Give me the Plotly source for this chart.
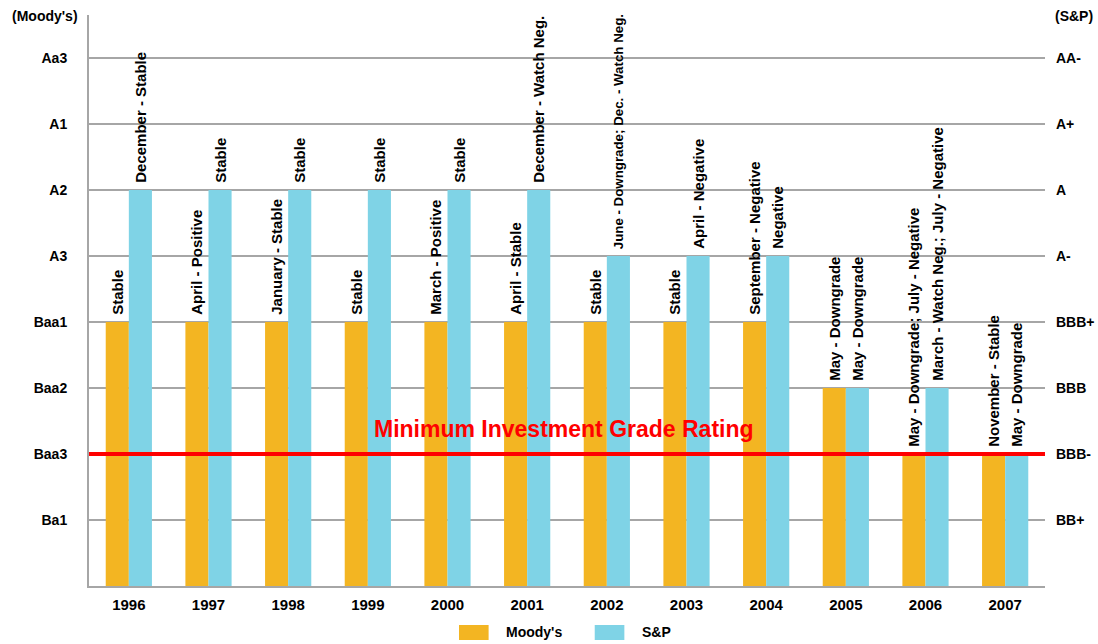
import plotly.graph_objects as go

years = ["1996", "1997", "1998", "1999", "2000", "2001",
         "2002", "2003", "2004", "2005", "2006", "2007"]

# rating scale positions (1 = Ba1/BB+ ... 8 = Aa3/AA-)
moodys_ticks = ["Ba1", "Baa3", "Baa2", "Baa1", "A3", "A2", "A1", "Aa3"]
sp_ticks = ["BB+", "BBB-", "BBB", "BBB+", "A-", "A", "A+", "AA-"]
tick_positions = [1, 2, 3, 4, 5, 6, 7, 8]

moodys_values = [4, 4, 4, 4, 4, 4, 4, 4, 4, 3, 2, 2]
sp_values = [6, 6, 6, 6, 6, 6, 5, 5, 5, 3, 3, 2]

moodys_labels = ["Stable", "April - Positive", "January - Stable", "Stable",
                 "March - Positive", "April - Stable", "Stable", "Stable",
                 "September - Negative", "May - Downgrade",
                 "May - Downgrade; July - Negative", "November - Stable"]
sp_labels = ["December - Stable", "Stable", "Stable", "Stable", "Stable",
             "December - Watch Neg.", "June - Downgrade; Dec. - Watch Neg.",
             "April - Negative", "Negative", "May - Downgrade",
             "March - Watch Neg.; July - Negative", "May - Downgrade"]

min_investment_grade = 2
min_grade_label = "Minimum Investment Grade Rating"

series_names = ["Moody's", "S&P"]
colors = ["#F3B522", "#7FD3E6"]

FONT = "Liberation Sans, Arial, sans-serif"

# the longest label (2002 S&P) was shrunk in the original to fit
label_font_sizes = [
    [15] * 12,
    [15, 15, 15, 15, 15, 15, 13.3, 15, 15, 15, 15, 15],
]

fig = go.Figure()
for name, vals, labs, col, sizes in zip(series_names, [moodys_values, sp_values],
                                        [moodys_labels, sp_labels], colors,
                                        label_font_sizes):
    fig.add_trace(go.Bar(
        x=years, y=vals, name=name, marker=dict(color=col, line=dict(width=0)),
        text=["\u00a0" + t for t in labs], textposition="outside",
        textangle=-90, constraintext="none", cliponaxis=False,
        textfont=dict(family=FONT, size=sizes, color="black", weight="bold"),
        showlegend=False, hoverinfo="x+y+name",
    ))

# invisible trace on the right axis to show the S&P scale
fig.add_trace(go.Scatter(x=years, y=[None] * len(years), yaxis="y2",
                         mode="lines", showlegend=False, hoverinfo="skip"))

fig.add_shape(type="line", xref="paper", x0=0, x1=1, yref="y",
              y0=min_investment_grade, y1=min_investment_grade,
              line=dict(color="#FF0000", width=4))
fig.add_annotation(text=min_grade_label, xref="paper", x=0.497, yref="y",
                   y=min_investment_grade, yshift=25, showarrow=False,
                   font=dict(family=FONT, size=23, color="#FF0000", weight="bold"))

# axis titles
fig.add_annotation(text="(Moody's)", xref="paper", x=-0.0094, xanchor="right",
                   yref="paper", y=0.998, yanchor="middle", showarrow=False,
                   font=dict(family=FONT, size=14, color="black", weight="bold"))
fig.add_annotation(text="(S&P)", xref="paper", x=1.0085, xanchor="left",
                   yref="paper", y=0.998, yanchor="middle", showarrow=False,
                   font=dict(family=FONT, size=14, color="black", weight="bold"))

# legend (manual)
leg_x = [0.387, 0.529]
for name, col, lx in zip(series_names, colors, leg_x):
    fig.add_shape(type="rect", xref="paper", yref="paper", x0=lx, x1=lx + 0.031,
                  y0=-0.0946, y1=-0.0683, fillcolor=col, line=dict(width=0))
    fig.add_annotation(text=name, xref="paper", x=lx + 0.0475, xanchor="left",
                       yref="paper", y=-0.0806, yanchor="middle", showarrow=False,
                       font=dict(family=FONT, size=14, color="black", weight="bold"))

fig.update_layout(
    width=1098, height=644,
    margin=dict(l=89, r=53, t=15, b=58, autoexpand=False),
    paper_bgcolor="white", plot_bgcolor="white",
    barmode="group", bargap=0.42, bargroupgap=0,
    font=dict(family=FONT, size=14, color="black"),
    xaxis=dict(showline=True, linecolor="#A6A6A6", linewidth=2, ticks="",
               showgrid=False, automargin=False, range=[-0.5, len(years) - 0.5],
               tickfont=dict(family=FONT, size=15, color="black", weight="bold"),
               ticklabelstandoff=4),
    yaxis=dict(range=[0, 8.65], tickvals=tick_positions, ticktext=moodys_ticks,
               showgrid=True, gridcolor="#A6A6A6", gridwidth=1.5,
               showline=True, linecolor="#A6A6A6", linewidth=2, automargin=False,
               zeroline=False, ticks="", ticklabelstandoff=17,
               tickfont=dict(family=FONT, size=14, color="black", weight="bold")),
    yaxis2=dict(range=[0, 8.65], tickvals=tick_positions, ticktext=sp_ticks,
                overlaying="y", side="right", showgrid=False, showline=False,
                zeroline=False, ticks="", ticklabelstandoff=10, automargin=False,
                tickfont=dict(family=FONT, size=14, color="black", weight="bold")),
)

fig.write_html("out.html", config={"displayModeBar": False},
               post_script="document.body.style.margin='0px';")
